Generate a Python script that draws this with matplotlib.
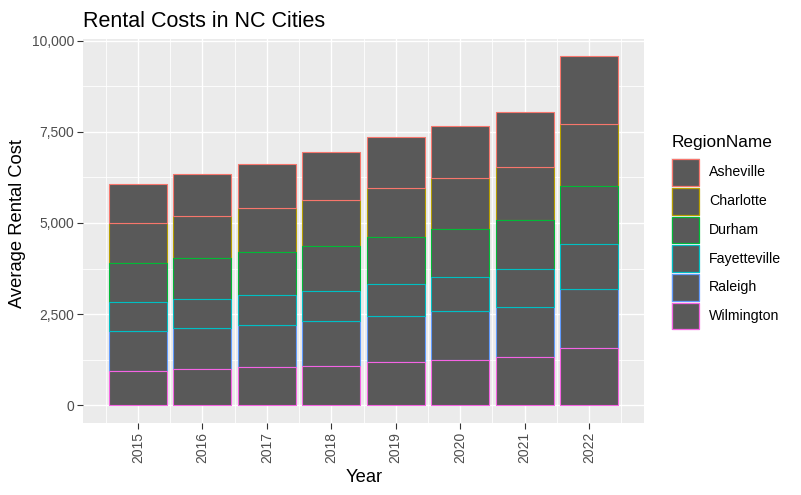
import matplotlib
matplotlib.use("Agg")
import matplotlib.pyplot as plt
from matplotlib.patches import Rectangle
from matplotlib.ticker import FuncFormatter
import numpy as np

plt.rcParams['font.family'] = ['Liberation Sans', 'DejaVu Sans']

years = ["2015", "2016", "2017", "2018", "2019", "2020", "2021", "2022"]
regions = ["Asheville", "Charlotte", "Durham", "Fayetteville", "Raleigh", "Wilmington"]
colors = ["#F8766D", "#B79F00", "#00BA38", "#00BFC4", "#619CFF", "#F564E3"]

asheville    = [1088, 1170, 1226, 1335, 1399, 1427, 1509, 1865]
charlotte    = [1097, 1152, 1197, 1262, 1344, 1398, 1454, 1701]
durham       = [1070, 1115, 1189, 1234, 1289, 1317, 1344, 1591]
fayetteville = [795, 805, 823, 823, 878, 933, 1042, 1234]
raleigh      = [1097, 1125, 1152, 1234, 1262, 1344, 1371, 1619]
wilmington   = [933, 987, 1042, 1070, 1179, 1234, 1317, 1563]

values = {
    "Asheville": asheville, "Charlotte": charlotte, "Durham": durham,
    "Fayetteville": fayetteville, "Raleigh": raleigh, "Wilmington": wilmington,
}

W, H = 801, 495
fig = plt.figure(figsize=(W / 100, H / 100), dpi=100)

def fx(px):
    return px / W

def fy(py):
    return 1 - py / H

left, right, top, bottom = 83, 644, 38.8, 422.75
ax = fig.add_axes([fx(left), fy(bottom), fx(right - left), (bottom - top) / H])
ax.set_facecolor("#EBEBEB")
for s in ax.spines.values():
    s.set_visible(False)

x = np.arange(len(years))
totals = np.zeros(len(years))
# stack from bottom: Wilmington ... Asheville on top
stack_order = list(reversed(regions))
bottoms = {}
for r in stack_order:
    bottoms[r] = totals.copy()
    totals = totals + np.array(values[r])

zorders = {"Charlotte": 2, "Raleigh": 2, "Asheville": 3, "Durham": 3,
           "Fayetteville": 3, "Wilmington": 3}
for r, c in zip(regions, colors):
    ax.bar(x, values[r], bottom=bottoms[r], width=0.9, color="#595959",
           edgecolor=c, linewidth=0.8, zorder=zorders[r])

ymax = totals.max()
ax.set_ylim(-0.05 * ymax, 1.05 * ymax)
ax.set_xlim(-0.855, len(years) - 1 + 0.855)

yt = [0, 2500, 5000, 7500, 10000]
ax.set_yticks(yt)
ax.yaxis.set_major_formatter(FuncFormatter(lambda v, p: f"{int(v):,}"))
ax.set_xticks(x)
ax.set_xticklabels(years, rotation=90)

# grid
for yv in yt:
    ax.axhline(yv, color="white", lw=1.0, zorder=0.5)
for yv in [1250, 3750, 6250, 8750]:
    ax.axhline(yv, color="white", lw=0.6, zorder=0.5)
for xv in x:
    ax.axvline(xv, color="white", lw=1.0, zorder=0.5)
for xv in np.arange(-0.5, len(years), 1.0):
    ax.axvline(xv, color="white", lw=0.6, zorder=0.5)

ax.tick_params(axis="both", length=4.1, width=0.8, color="#333333",
               labelcolor="#4D4D4D", labelsize=10, pad=2.4)

# titles
fig.text(fx(83), fy(26.7), "Rental Costs in NC Cities", fontsize=15.5,
         color="black", va="baseline", ha="left")
fig.text(fx(364), fy(481.5), "Year", fontsize=13.2, color="black",
         va="baseline", ha="center")
fig.text(fx(18), fy(224), "Average Rental Cost", fontsize=13.2, color="black",
         va="center", ha="center", rotation=90)

# legend
fig.text(fx(671.7), fy(147.3), "RegionName", fontsize=12.4, color="black",
         va="baseline", ha="left")
key = 28.7
for i, (r, c) in enumerate(zip(regions, colors)):
    cy = 172.5 + i * key
    fig.add_artist(Rectangle((fx(671), fy(cy + key / 2)), fx(key), key / H,
                             transform=fig.transFigure, facecolor="#F2F2F2",
                             edgecolor="none"))
    fig.add_artist(Rectangle((fx(672), fy(cy + key / 2 - 1)), fx(key - 2), (key - 2) / H,
                             transform=fig.transFigure, facecolor="#595959",
                             edgecolor=c, linewidth=0.9))
    fig.text(fx(709), fy(cy), r, fontsize=10.2, color="black",
             va="center", ha="left")

fig.savefig("out.png", dpi=100)
